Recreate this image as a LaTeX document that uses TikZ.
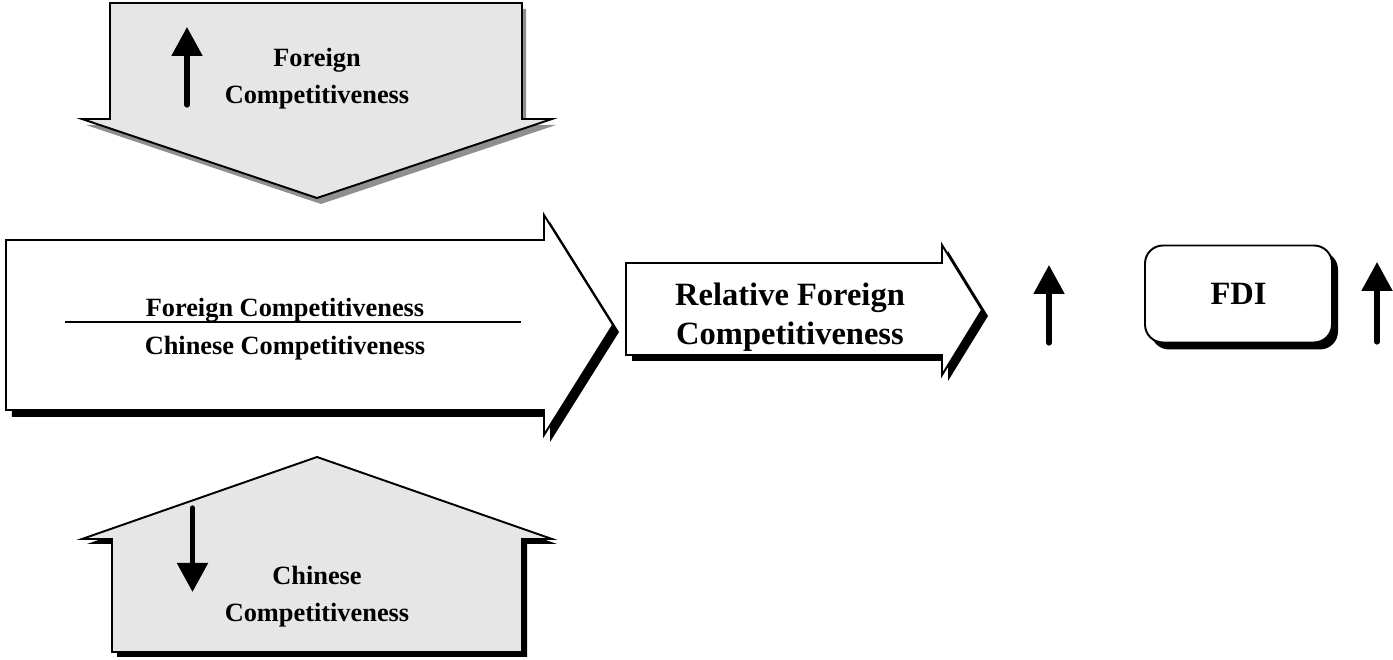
\documentclass[tikz,border=0pt]{standalone}
\usepackage{fontspec}
\setmainfont{Liberation Serif}
\usetikzlibrary{arrows.meta}

\definecolor{fondgris}{HTML}{E6E6E6}
\definecolor{ombregris}{HTML}{8F8F8F}

\tikzset{
  contour/.style={draw=black, line width=1.1pt, line join=miter},
  ombregrise/.style={fill=ombregris, draw=none},
  ombrenoire/.style={fill=black, draw=none},
  petitefleche/.style={line width=3pt, line cap=round,
    -{Triangle[length=0.58cm,width=0.6cm]}},
  etiquette/.style={font=\bfseries\fontsize{15}{21}\selectfont, align=center, inner sep=0pt},
  grandeetiquette/.style={font=\bfseries\fontsize{18.5}{22}\selectfont, align=center, inner sep=0pt}
}

\begin{document}
\begin{tikzpicture}

\useasboundingbox (0,0) rectangle (27.86,13.2);

% Fleche du haut
\fill[ombregrise,shift={(0.08,-0.12)}] (2.20,13.14) -- (10.44,13.14) -- (10.44,10.82)
  -- (11.04,10.82) -- (6.34,9.24) -- (1.64,10.82) -- (2.20,10.82) -- cycle;
\draw[contour,fill=fondgris] (2.20,13.14) -- (10.44,13.14) -- (10.44,10.82)
  -- (11.04,10.82) -- (6.34,9.24) -- (1.64,10.82) -- (2.20,10.82) -- cycle;

\coordinate (hautbas) at (3.74,11.10);
\coordinate (hauthaut) at (3.74,12.66);
\draw[petitefleche] (hautbas) -- (hauthaut);

\node[etiquette] (etranger) at (6.34,11.63)
{Foreign\\Competitiveness};

% Grande fleche
\fill[ombrenoire,shift={(0.12,-0.14)}] (0.12,8.40) -- (10.88,8.40) -- (10.88,8.90)
  -- (12.26,6.70) -- (10.88,4.50) -- (10.88,5.00) -- (0.12,5.00) -- cycle;
\draw[contour,fill=white] (0.12,8.40) -- (10.88,8.40) -- (10.88,8.90)
  -- (12.26,6.70) -- (10.88,4.50) -- (10.88,5.00) -- (0.12,5.00) -- cycle;

\coordinate (traitg) at (1.30,6.76);
\coordinate (traitd) at (10.42,6.76);
\draw[line width=1.1pt] (traitg) -- (traitd);

\node[etiquette,anchor=base] (numerateur) at (5.70,6.86)
{Foreign Competitiveness};
\node[etiquette,anchor=base] (denominateur) at (5.70,6.10)
{Chinese Competitiveness};

% Fleche relative
\fill[ombrenoire,shift={(0.12,-0.12)}] (12.52,7.94) -- (18.84,7.94) -- (18.84,8.30)
  -- (19.64,7.00) -- (18.84,5.70) -- (18.84,6.10) -- (12.52,6.10) -- cycle;
\draw[contour,fill=white] (12.52,7.94) -- (18.84,7.94) -- (18.84,8.30)
  -- (19.64,7.00) -- (18.84,5.70) -- (18.84,6.10) -- (12.52,6.10) -- cycle;

\node[grandeetiquette] (relatif) at (15.80,6.86)
{Relative Foreign\\Competitiveness};

% FDI
\fill[ombrenoire,rounded corners=0.36cm] (23.02,8.17) rectangle (26.76,6.21);
\node[draw, line width=1.1pt, fill=white, rounded corners=0.36cm,
  minimum width=3.74cm, minimum height=1.94cm,
  font=\bfseries\fontsize{18.5}{22}\selectfont] (fdi) at (24.77,7.32) {FDI};

% Petites fleches montantes
\foreach \nom/\x/\ya/\yb in {
milieu/20.98/6.34/7.90,
droite/27.54/6.36/7.96
}
{
\coordinate (\nom bas) at (\x,\ya);
\coordinate (\nom haut) at (\x,\yb);
\draw[petitefleche] (\nom bas) -- (\nom haut);
}

% Fleche du bas
\fill[ombrenoire,shift={(0.1,-0.1)}] (6.34,4.06) -- (11.04,2.42) -- (10.44,2.42)
  -- (10.44,0.16) -- (2.24,0.16) -- (2.24,2.42) -- (1.64,2.42) -- cycle;
\draw[contour,fill=fondgris] (6.34,4.06) -- (11.04,2.42) -- (10.44,2.42)
  -- (10.44,0.16) -- (2.24,0.16) -- (2.24,2.42) -- (1.64,2.42) -- cycle;

\coordinate (basbas) at (3.85,1.36);
\coordinate (bashaut) at (3.85,3.04);
\draw[petitefleche] (bashaut) -- (basbas);

\node[etiquette] (chinois) at (6.34,1.27)
{Chinese\\Competitiveness};

\end{tikzpicture}
\end{document}
